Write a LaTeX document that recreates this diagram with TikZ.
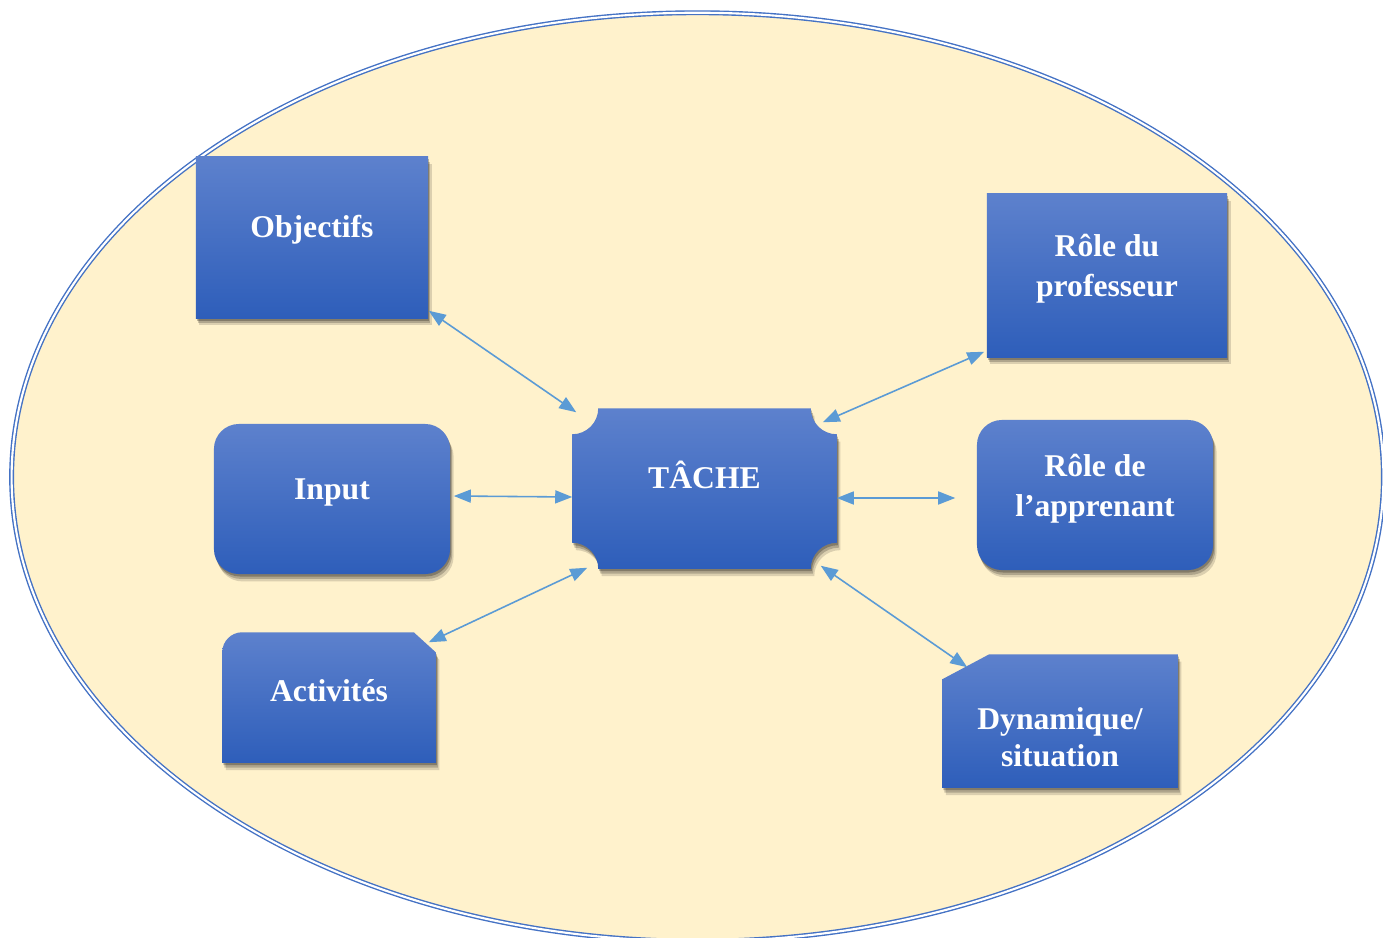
\documentclass[tikz,border=0pt]{standalone}
\usepackage{fontspec}
\setmainfont{Liberation Serif}
\usepackage{xcolor}
\usetikzlibrary{arrows.meta,shadows}

\definecolor{boxtop}{RGB}{93,129,205}
\definecolor{boxbot}{RGB}{46,94,186}
\definecolor{ringblue}{RGB}{68,114,196}
\definecolor{cream}{RGB}{255,242,204}
\definecolor{arrblue}{RGB}{91,155,213}

\begin{document}
\begin{tikzpicture}[
  x=0.01cm, y=-0.01cm,
  ring/.style={draw=ringblue, double=white, double distance=0.6pt, line width=0.4pt, fill=cream},
  shadebox/.style={top color=boxtop, bottom color=boxbot,
    drop shadow={fill=black, opacity=0.14, shadow xshift=1.0pt, shadow yshift=-2.1pt},
    drop shadow={fill=black, opacity=0.20, shadow xshift=0.6pt, shadow yshift=-1.4pt},
    drop shadow={fill=black, opacity=0.25, shadow xshift=0.3pt, shadow yshift=-0.7pt}},
  box/.style={inner sep=0pt},
  lbl/.style={text=white, font=\bfseries\fontsize{9}{11.4}\selectfont, align=center},
  arr/.style={{Triangle[length=1.7mm,width=1.3mm]}-{Triangle[length=1.7mm,width=1.3mm]}, draw=arrblue, line width=0.45pt}
]
  \useasboundingbox (0,0) rectangle (1383,937);
  \begin{scope}
    \clip (0,0) rectangle (1383,937);
    \draw[ring] (697.5,477) ellipse [x radius=6.855cm, y radius=4.64cm];
  \end{scope}

  % boxes
  \node[box, shadebox, minimum width=2.32cm, minimum height=1.61cm,
        label={[lbl, yshift=0.075cm]center:Objectifs}] (obj) at (312,237.5) {};
  \node[box, shadebox, minimum width=2.40cm, minimum height=1.63cm,
        label={[lbl, yshift=0.07cm]center:Rôle du\\professeur}] (prof) at (1107,275.5) {};
  \node[box, shadebox, rounded corners=0.25cm, minimum width=2.36cm, minimum height=1.50cm,
        label={[lbl, yshift=0.06cm]center:Input}] (input) at (332,499) {};
  \node[box, shadebox, rounded corners=0.25cm, minimum width=2.36cm, minimum height=1.50cm,
        label={[lbl, yshift=0.06cm]center:Rôle de\\l’apprenant}] (appr) at (1095,495) {};
  \node[box, minimum width=2.63cm, minimum height=1.59cm] (tache) at (704.5,488.5) {};
  \node[box, minimum width=2.12cm, minimum height=1.29cm] (act) at (329,697.5) {};
  \node[box, minimum width=2.34cm, minimum height=1.32cm] (dyn) at (1060,721) {};

  % shapes with cut or hollow corners
  \path[shadebox] ([yshift=-0.26cm]tache.north west) arc[start angle=-90, end angle=0, radius=0.26cm]
    -- ([xshift=-0.26cm]tache.north east) arc[start angle=180, end angle=270, radius=0.26cm]
    -- ([yshift=0.26cm]tache.south east) arc[start angle=90, end angle=180, radius=0.26cm]
    -- ([xshift=0.26cm]tache.south west) arc[start angle=0, end angle=90, radius=0.26cm] -- cycle;
  \path[shadebox] (act.south west) -- ([yshift=-0.2cm]act.north west)
    arc[start angle=180, end angle=90, radius=0.2cm]
    -- ([xshift=-0.22cm]act.north east) -- ([yshift=-0.2cm]act.north east) -- (act.south east) -- cycle;
  \path[shadebox] (dyn.south west) -- ([yshift=-0.25cm]dyn.north west)
    -- ([xshift=0.47cm]dyn.north west) -- (dyn.north east) -- (dyn.south east) -- cycle;
  \node[lbl] (tache-t) at ([yshift=0.14cm]tache.center) {TÂCHE};
  \node[lbl] (act-t) at ([yshift=0.065cm]act.center) {Activités};
  \node[lbl, font=\bfseries\fontsize{9}{10.6}\selectfont] (dyn-t) at ([yshift=-0.16cm]dyn.center) {Dynamique/\\situation};

  % links
  \draw[arr] ([shift={(0,-8)}]obj.south east) -- ([shift={(4,4)}]tache.north west);
  \draw[arr] ([shift={(3,-3)}]input.east) -- ([shift={(0,8.5)}]tache.west);
  \draw[arr] ([shift={(-7,10)}]act.north east) -- ([shift={(15,-1)}]tache.south west);
  \draw[arr] ([shift={(-2,-6)}]prof.south west) -- ([shift={(-14,14)}]tache.north east);
  \draw[arr] ([shift={(0,9.5)}]tache.east) -- ([shift={(-21,3)}]appr.west);
  \draw[arr] ([shift={(-16,-3)}]tache.south east) -- ([shift={(25,13)}]dyn.north west);
\end{tikzpicture}
\end{document}
